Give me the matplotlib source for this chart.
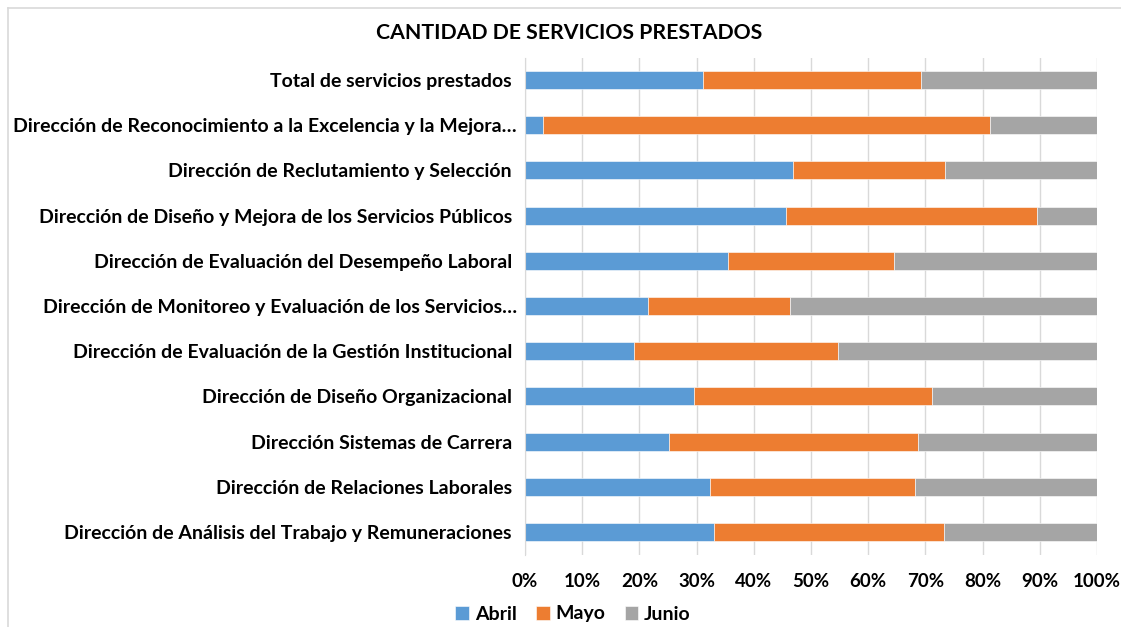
import matplotlib
matplotlib.use("Agg")
import matplotlib.pyplot as plt
from matplotlib.ticker import FuncFormatter

categories = [
    "Total de servicios prestados ",
    "Dirección de Reconocimiento a la Excelencia y la Mejora…",
    "Dirección de Reclutamiento y Selección ",
    "Dirección de Diseño y Mejora de los Servicios Públicos ",
    "Dirección de Evaluación del Desempeño Laboral ",
    "Dirección de Monitoreo y Evaluación de los Servicios…",
    "Dirección de Evaluación de la Gestión Institucional ",
    "Dirección de Diseño Organizacional ",
    "Dirección Sistemas de Carrera ",
    "Dirección de Relaciones Laborales ",
    "Dirección de Análisis del Trabajo y Remuneraciones ",
]
abril = [31.2, 3.1, 46.9, 45.6, 35.5, 21.5, 19.1, 29.6, 25.2, 32.4, 33.1]
mayo = [38.0, 78.2, 26.5, 43.9, 29.0, 24.8, 35.6, 41.6, 43.5, 35.7, 40.1]
junio = [30.8, 18.7, 26.6, 10.5, 35.5, 53.7, 45.3, 28.8, 31.3, 31.9, 26.8]
series_names = ["Abril", "Mayo", "Junio"]
colors = ["#5B9BD5", "#ED7D31", "#A5A5A5"]
xticks = [0, 10, 20, 30, 40, 50, 60, 70, 80, 90, 100]

FONT = "Lato"
W, H = 1121, 627
fig = plt.figure(figsize=(W / 100, H / 100), dpi=100)
ax = fig.add_axes([525 / W, 1 - 554.5 / H, (1097 - 525) / W, (554.5 - 57.5) / H])

# chart border
fig.add_artist(plt.Line2D([8 / W, 8 / W], [0, 1 - 8 / H], transform=fig.transFigure, color="#d9d9d9", lw=1.2))
fig.add_artist(plt.Line2D([8 / W, 1], [1 - 8 / H, 1 - 8 / H], transform=fig.transFigure, color="#d9d9d9", lw=1.2))

n = len(categories)
ypos = list(range(n))
left = [0] * n
for vals, name, c in zip([abril, mayo, junio], series_names, colors):
    ax.barh(ypos, vals, left=left, height=0.4, color=c, label=name,
            edgecolor="white", linewidth=0.4, zorder=3)
    left = [l + v for l, v in zip(left, vals)]

ax.set_ylim(n - 0.5, -0.5)
ax.set_xlim(0, 100)
ax.set_yticks(ypos)
ax.set_yticklabels(categories, fontsize=14, fontweight="bold", family=FONT)
ax.set_xticks(xticks)
ax.xaxis.set_major_formatter(FuncFormatter(lambda v, p: f"{int(v)}%"))
for lab in ax.get_xticklabels():
    lab.set_fontsize(13.5)
    lab.set_fontweight("bold")
    lab.set_family(FONT)
ax.tick_params(axis="both", length=0)
ax.tick_params(axis="x", pad=13)
ax.tick_params(axis="y", pad=6)
ax.grid(axis="x", color="#d9d9d9", linewidth=1, zorder=0)
for s in ["top", "right", "bottom"]:
    ax.spines[s].set_visible(False)
ax.spines["left"].set_color("#d9d9d9")
ax.spines["left"].set_zorder(4)

fig.text(569 / W, 1 - 33 / H, "CANTIDAD DE SERVICIOS PRESTADOS", ha="center", va="center",
         fontsize=15.3, fontweight="bold", family=FONT)

handles, labels = ax.get_legend_handles_labels()
leg = fig.legend(handles, labels, loc="center", bbox_to_anchor=(573 / W, 1 - 614 / H), ncol=3,
                 frameon=False, handlelength=0.7, handleheight=0.7, handletextpad=0.3,
                 columnspacing=1.0, prop={"family": FONT, "weight": "bold", "size": 14})

fig.savefig("out.png", dpi=100, facecolor="white")
